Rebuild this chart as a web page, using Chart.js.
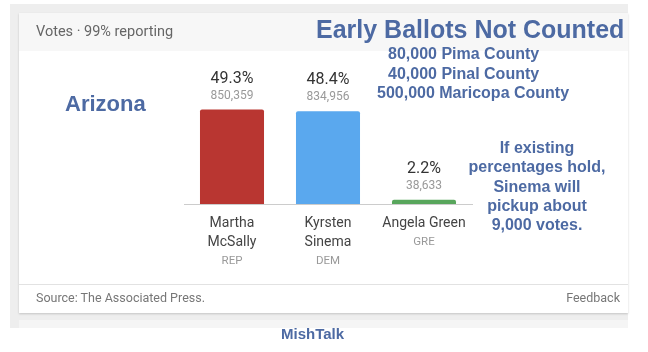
<!DOCTYPE html>
<html>
<head>
<meta charset="utf-8">
<script src="https://cdn.jsdelivr.net/npm/chart.js@4/dist/chart.umd.min.js"></script>
<style>
  html, body { margin: 0; padding: 0; background: #fff; }
  body { width: 648px; height: 352px; position: relative; overflow: hidden; font-family: Roboto, "Noto Sans", sans-serif; }
  .frame { position: absolute; left: 10px; top: 4px; width: 618px; height: 324px; background: #eeeeee; }
  .card { position: absolute; left: 19px; top: 13px; width: 609px; height: 300px; background: #fff; box-shadow: 0 1px 2px rgba(0,0,0,0.18); }
  .card-head { position: absolute; left: 0; top: 0; width: 100%; height: 38px; background: #f7f7f7; }
  .card-foot { position: absolute; left: 0; top: 271px; width: 100%; height: 29px; border-top: 1px solid #e2e2e2; }
  .card2 { position: absolute; left: 19px; top: 320px; width: 609px; height: 8px; background: #f5f5f5; }
  .txt { position: absolute; white-space: nowrap; line-height: 1; }
  .note { font-family: "Liberation Sans", Arial, sans-serif; font-weight: bold; color: #4d6aa3; }
  #chart { position: absolute; left: 0; top: 0; }
</style>
</head>
<body>
<div class="frame"></div>
<div class="card">
  <div class="card-head"></div>
  <div class="card-foot"></div>
</div>
<div class="card2"></div>
<canvas id="chart" width="648" height="352"></canvas>

<div class="txt" style="left:36px; top:25px; font-size:14.5px; color:#666;">Votes · 99% reporting</div>
<div class="txt" style="left:36px; top:292px; font-size:12.5px; color:#777;">Source: The Associated Press.</div>
<div class="txt" style="right:28px; top:292px; font-size:12.5px; color:#777;">Feedback</div>

<div class="txt note" style="left:316px; top:17px; font-size:25px;">Early Ballots Not Counted</div>
<div class="txt note" style="left:388px; top:46px; font-size:16px;">80,000 Pima County</div>
<div class="txt note" style="left:388px; top:66px; font-size:16px;">40,000 Pinal County</div>
<div class="txt note" style="left:377px; top:85px; font-size:16px;">500,000 Maricopa County</div>
<div class="txt note" style="left:65px; top:93px; font-size:22px;">Arizona</div>
<div class="txt note" style="left:460px; top:138px; width:154px; text-align:center; font-size:16px; line-height:19.3px;">If existing<br>percentages hold,<br>Sinema will<br>pickup about<br>9,000 votes.</div>
<div class="txt note" style="left:281px; top:326px; font-size:15px;">MishTalk</div>

<script>
const candidates = [["Martha", "McSally"], ["Kyrsten", "Sinema"], ["Angela Green"]];
const parties = ["REP", "DEM", "GRE"];
const votes = [850359, 834956, 38633];
const shares = [49.3, 48.4, 2.2];

const ctx = document.getElementById('chart').getContext('2d');

// labels above the bars and the name / party lines under the axis
const barLabels = {
  id: 'barLabels',
  afterDatasetsDraw(chart) {
    const c = chart.ctx;
    const meta = chart.getDatasetMeta(0);
    const xs = chart.scales.x;
    const base = chart.chartArea.bottom;
    c.save();
    c.textAlign = 'center';
    c.textBaseline = 'middle';
    meta.data.forEach((bar, i) => {
      c.font = '16px Roboto';
      c.fillStyle = '#333';
      c.fillText(shares[i].toFixed(1) + '%', bar.x, bar.y - 31);
      c.font = '12px Roboto';
      c.fillStyle = '#999';
      c.fillText(votes[i].toLocaleString('en-US'), bar.x, bar.y - 14);

      const x = xs.getPixelForValue(i);
      let y = base + 19;
      c.font = '14px Roboto';
      c.fillStyle = '#444';
      candidates[i].forEach(line => {
        c.fillText(line, x, y);
        y += 19;
      });
      c.font = '11.5px Roboto';
      c.fillStyle = '#999';
      c.fillText(parties[i], x, y);
    });
    c.restore();
  }
};

new Chart(ctx, {
  type: 'bar',
  data: {
    labels: candidates.map(n => n.join(' ')),
    datasets: [{
      label: 'Votes',
      data: votes,
      backgroundColor: ['#b93631', '#5aa8ee', '#58a65c'],
      barPercentage: 0.667,
      categoryPercentage: 1,
      borderRadius: { topLeft: 2, topRight: 2 },
      borderSkipped: 'bottom'
    }]
  },
  options: {
    responsive: false,
    animation: false,
    devicePixelRatio: 1,
    layout: { padding: { left: 184, right: 176, top: 104, bottom: 140 } },
    plugins: { legend: { display: false }, tooltip: { enabled: false } },
    scales: {
      x: {
        grid: { display: false },
        ticks: { display: false },
        border: { display: true, color: '#cccccc', width: 1 }
      },
      y: {
        display: false,
        min: 0,
        max: 900000
      }
    }
  },
  plugins: [barLabels]
});
</script>
</body>
</html>
